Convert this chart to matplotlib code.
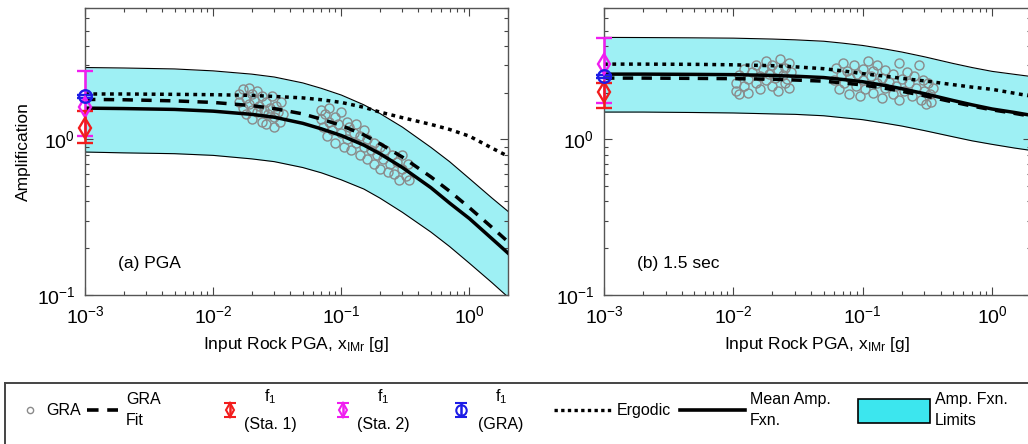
import numpy as np
import matplotlib.pyplot as plt
from matplotlib.ticker import LogLocator, NullFormatter
from matplotlib.patches import Rectangle

plt.rcParams['font.family'] = ['Liberation Sans', 'DejaVu Sans']
plt.rcParams['mathtext.default'] = 'regular'

# ---- data ----
x_curve = [0.001, 0.002, 0.005, 0.01, 0.02, 0.03, 0.05, 0.07, 0.1, 0.15, 0.2, 0.3, 0.5, 0.7,
           1.0, 1.5, 2.0]

# (a) PGA
pga_mean = [1.59, 1.58, 1.56, 1.52, 1.45, 1.39, 1.27, 1.17, 1.06, 0.92, 0.81, 0.66, 0.49,
            0.39, 0.31, 0.23, 0.186]
pga_fit = [1.81, 1.80, 1.77, 1.73, 1.65, 1.58, 1.46, 1.35, 1.23, 1.07, 0.94, 0.77, 0.575,
           0.465, 0.364, 0.272, 0.22]
pga_upper = [2.90, 2.88, 2.84, 2.76, 2.63, 2.52, 2.31, 2.13, 1.93, 1.67, 1.47, 1.20, 0.89,
             0.72, 0.56, 0.42, 0.345]
pga_lower = [0.83, 0.82, 0.81, 0.79, 0.75, 0.72, 0.66, 0.61, 0.55, 0.48, 0.42, 0.34, 0.254,
             0.205, 0.16, 0.12, 0.097]
pga_ergodic = [1.96, 1.96, 1.95, 1.94, 1.92, 1.89, 1.85, 1.80, 1.73, 1.61, 1.50, 1.38, 1.25,
               1.16, 1.05, 0.88, 0.78]

pga_gra_x = [0.016, 0.016, 0.017, 0.017, 0.018, 0.018, 0.019, 0.019, 0.02, 0.02, 0.02, 0.021,
             0.022, 0.022, 0.023, 0.024, 0.024, 0.025, 0.026, 0.026, 0.027, 0.028, 0.029, 0.03,
             0.03, 0.031, 0.032, 0.033, 0.034, 0.035,
             0.07, 0.07, 0.072, 0.075, 0.078, 0.08, 0.08, 0.085, 0.09, 0.09, 0.095, 0.1, 0.1,
             0.105, 0.11, 0.11, 0.115, 0.12, 0.125, 0.13, 0.13, 0.14, 0.14, 0.15, 0.15, 0.16,
             0.16, 0.17, 0.18, 0.18, 0.19, 0.2, 0.2, 0.21, 0.22, 0.23, 0.24, 0.25, 0.26, 0.27,
             0.28, 0.3, 0.3, 0.32, 0.33, 0.34]
pga_gra_y = [1.95, 1.75, 2.10, 1.60, 1.85, 1.45, 2.15, 1.70, 1.95, 1.55, 1.35, 1.80,
             2.05, 1.50, 1.65, 1.90, 1.30, 1.55, 1.75, 1.25, 1.45, 1.60, 1.90, 1.40,
             1.20, 1.65, 1.50, 1.30, 1.75, 1.45,
             1.55, 1.35, 1.20, 1.45, 1.05, 1.60, 1.30, 1.15, 1.40, 0.95, 1.25, 1.50, 1.10,
             0.90, 1.30, 1.00, 1.20, 0.85, 1.10, 0.95, 1.25, 0.80, 1.05, 0.90, 1.15, 0.75,
             1.00, 0.85, 0.95, 0.70, 0.80, 0.90, 0.65, 0.75, 0.85, 0.62, 0.70, 0.80, 0.60, 0.72,
             0.55, 0.65, 0.80, 0.58, 0.70, 0.55]

# f1 error bars at x = 1e-3: (value, low, high)
pga_sta1 = (1.19, 0.95, 1.52)
pga_sta2 = (1.62, 1.05, 2.76)
pga_f1gra = (1.90, 1.86, 1.94)

# (b) 1.5 sec
sa_mean = [2.63, 2.63, 2.62, 2.61, 2.58, 2.55, 2.50, 2.43, 2.35, 2.22, 2.12, 1.97, 1.78,
           1.67, 1.57, 1.49, 1.43]
sa_fit = [2.48, 2.48, 2.47, 2.46, 2.44, 2.41, 2.37, 2.31, 2.24, 2.13, 2.04, 1.91, 1.74,
          1.64, 1.55, 1.47, 1.41]
sa_upper = [4.53, 4.52, 4.50, 4.48, 4.42, 4.37, 4.28, 4.16, 4.02, 3.81, 3.65, 3.40, 3.08,
            2.90, 2.74, 2.62, 2.54]
sa_lower = [1.50, 1.50, 1.49, 1.48, 1.46, 1.45, 1.42, 1.38, 1.34, 1.27, 1.22, 1.14, 1.04,
            0.98, 0.93, 0.88, 0.85]
sa_ergodic = [3.05, 3.05, 3.04, 3.02, 2.98, 2.93, 2.85, 2.76, 2.65, 2.55, 2.47, 2.38, 2.25,
              2.17, 2.10, 1.98, 1.90]

sa_gra_x = [0.0105, 0.0105, 0.011, 0.011, 0.012, 0.012, 0.013, 0.013, 0.014, 0.015, 0.015,
            0.016, 0.016, 0.017, 0.018, 0.018, 0.019, 0.02, 0.02, 0.021, 0.022, 0.022, 0.023,
            0.024, 0.025, 0.025, 0.026, 0.027, 0.027, 0.028,
            0.06, 0.062, 0.065, 0.068, 0.07, 0.072, 0.075, 0.078, 0.08, 0.085, 0.088, 0.09,
            0.095, 0.1, 0.1, 0.105, 0.11, 0.115, 0.12, 0.12, 0.13, 0.13, 0.14, 0.14, 0.15, 0.15,
            0.16, 0.17, 0.17, 0.18, 0.19, 0.19, 0.2, 0.21, 0.22, 0.23, 0.24, 0.25, 0.26, 0.27,
            0.28, 0.29, 0.3, 0.31, 0.32, 0.33, 0.34, 0.35]
sa_gra_y = [2.30, 2.05, 2.60, 1.95, 2.20, 2.85, 2.45, 2.00, 2.70, 2.30, 3.00,
            2.55, 2.10, 2.85, 2.40, 3.20, 2.65, 2.20, 3.00, 2.50, 2.80, 2.05, 3.30,
            2.60, 2.30, 2.90, 2.45, 2.15, 3.10, 2.70,
            2.40, 2.90, 2.10, 2.60, 3.10, 2.30, 2.75, 1.95, 2.50, 3.00, 2.20, 2.65,
            1.90, 2.40, 2.85, 2.10, 3.20, 2.55, 2.00, 2.75, 2.30, 3.00, 1.85, 2.50, 2.15, 2.80,
            2.35, 1.95, 2.65, 2.20, 3.10, 1.80, 2.45, 2.05, 2.70, 2.30, 1.90, 2.55, 2.15, 3.00,
            1.80, 2.40, 2.05, 1.70, 2.30, 1.95, 1.75, 2.15]

sa_sta1 = (2.02, 1.60, 2.30)
sa_sta2 = (3.05, 1.72, 4.50)
sa_f1gra = (2.55, 2.50, 2.60)

x_f1 = 0.001

CYAN_BAND = '#9ef0f4'
CYAN_BOX = '#3ce6ee'
GREY = '#8a8a8a'
RED = '#f21d1d'
MAGENTA = '#f01ef0'
BLUE = '#1c1ce6'

W, H = 1028, 444
fig = plt.figure(figsize=(W / 100, H / 100), dpi=100)


def px_axes(x0, y0, x1, y1):
    # axes placed in image pixel coordinates (origin top-left)
    return fig.add_axes([x0 / W, 1 - y1 / H, (x1 - x0) / W, (y1 - y0) / H])


def draw_f1(ax, vals, color, marker, ms):
    y, lo, hi = vals
    ax.errorbar([x_f1], [y], yerr=[[y - lo], [hi - y]], fmt=marker, ms=ms, mfc='none',
                mec=color, mew=1.7, ecolor=color, elinewidth=1.8, capsize=5.5, capthick=1.8,
                clip_on=False, zorder=6)


def panel(ax, mean, fit, upper, lower, ergodic, gx, gy, sta1, sta2, f1gra, label):
    ax.set_xscale('log')
    ax.set_yscale('log')
    ax.fill_between(x_curve, lower, upper, color=CYAN_BAND, lw=0, zorder=1)
    ax.plot(x_curve, upper, color='k', lw=0.8, zorder=2)
    ax.plot(x_curve, lower, color='k', lw=0.8, zorder=2)
    ax.plot(gx, gy, 'o', ms=6.5, mfc='none', mec=GREY, mew=1.0, zorder=3)
    ax.plot(x_curve, ergodic, color='k', lw=2.5, ls=(0, (1.1, 1.3)), zorder=4)
    ax.plot(x_curve, fit, color='k', lw=2.5, ls=(0, (3, 2.4)), zorder=4)
    ax.plot(x_curve, mean, color='k', lw=2.5, zorder=4)
    draw_f1(ax, sta2, MAGENTA, 'd', 10)
    draw_f1(ax, sta1, RED, 'd', 10)
    draw_f1(ax, f1gra, BLUE, 'o', 9)
    ax.set_xlim(1e-3, 2)
    ax.set_ylim(0.1, 7)
    ax.xaxis.set_major_locator(LogLocator(base=10, numticks=10))
    ax.xaxis.set_minor_locator(LogLocator(base=10, subs=np.arange(2, 10), numticks=20))
    ax.xaxis.set_minor_formatter(NullFormatter())
    ax.yaxis.set_minor_formatter(NullFormatter())
    ax.tick_params(which='both', direction='in', top=True, right=True, color='#444444',
                   labelsize=14, pad=7)
    ax.tick_params(which='major', length=6, width=0.8)
    ax.tick_params(which='minor', length=3, width=0.8)
    for s in ax.spines.values():
        s.set_color('#555555')
        s.set_linewidth(1.0)
    ax.set_xlabel('Input Rock PGA, x$_{IMr}$ [g]', fontsize=12.5, labelpad=6)
    ax.text(0.078, 0.11, label, transform=ax.transAxes, fontsize=12.5, va='center')


ax1 = px_axes(85, 8, 508, 295)
ax2 = px_axes(604, 8, 1031, 295)
panel(ax1, pga_mean, pga_fit, pga_upper, pga_lower, pga_ergodic, pga_gra_x, pga_gra_y,
      pga_sta1, pga_sta2, pga_f1gra, '(a) PGA')
panel(ax2, sa_mean, sa_fit, sa_upper, sa_lower, sa_ergodic, sa_gra_x, sa_gra_y,
      sa_sta1, sa_sta2, sa_f1gra, '(b) 1.5 sec')
ax1.set_ylabel('Amplification', fontsize=12.5, labelpad=4)

# ---- legend box along the bottom (drawn in image pixel coordinates) ----
lg = px_axes(5, 383, 1045, 470)
lg.set_xlim(5, 1045)
lg.set_ylim(470, 383)
lg.set_xticks([])
lg.set_yticks([])
for s in lg.spines.values():
    s.set_color('#444444')
    s.set_linewidth(1.4)

fs = 11.5
lg.plot([30], [410], 'o', ms=4.5, mfc='none', mec=GREY, mew=1.0)
lg.text(46, 410, 'GRA', fontsize=fs, va='center')
lg.plot([87, 118], [410, 410], color='k', lw=2.6, ls=(0, (3.2, 2.4)))
lg.text(126, 410, 'GRA\nFit', fontsize=fs, va='center', linespacing=1.5)
for xc, col, mk, txt in [(230, RED, 'd', '(Sta. 1)'), (343, MAGENTA, 'd', '(Sta. 2)'),
                         (461, BLUE, 'o', '(GRA)')]:
    lg.errorbar([xc], [410], yerr=[[7], [7]], fmt=mk, ms=7.5, mfc='none', mec=col, mew=1.5,
                ecolor=col, elinewidth=1.8, capsize=4, capthick=1.8)
    tx = xc + 40
    lg.text(tx, 397, 'f$_{1}$', fontsize=fs, ha='center', va='center')
    lg.text(tx, 424, txt, fontsize=fs, ha='center', va='center')
lg.plot([554, 612], [410, 410], color='k', lw=2.4, ls=(0, (1, 1)))
lg.text(617, 410, 'Ergodic', fontsize=fs, va='center')
lg.plot([680, 745], [410, 410], color='k', lw=2.6)
lg.text(750, 410, 'Mean Amp.\nFxn.', fontsize=fs, va='center', linespacing=1.5)
lg.add_patch(Rectangle((858, 399), 72, 24, facecolor=CYAN_BOX, edgecolor='k', lw=1.2))
lg.text(935, 410, 'Amp. Fxn.\nLimits', fontsize=fs, va='center', linespacing=1.5)

fig.savefig('out.png', dpi=100)
